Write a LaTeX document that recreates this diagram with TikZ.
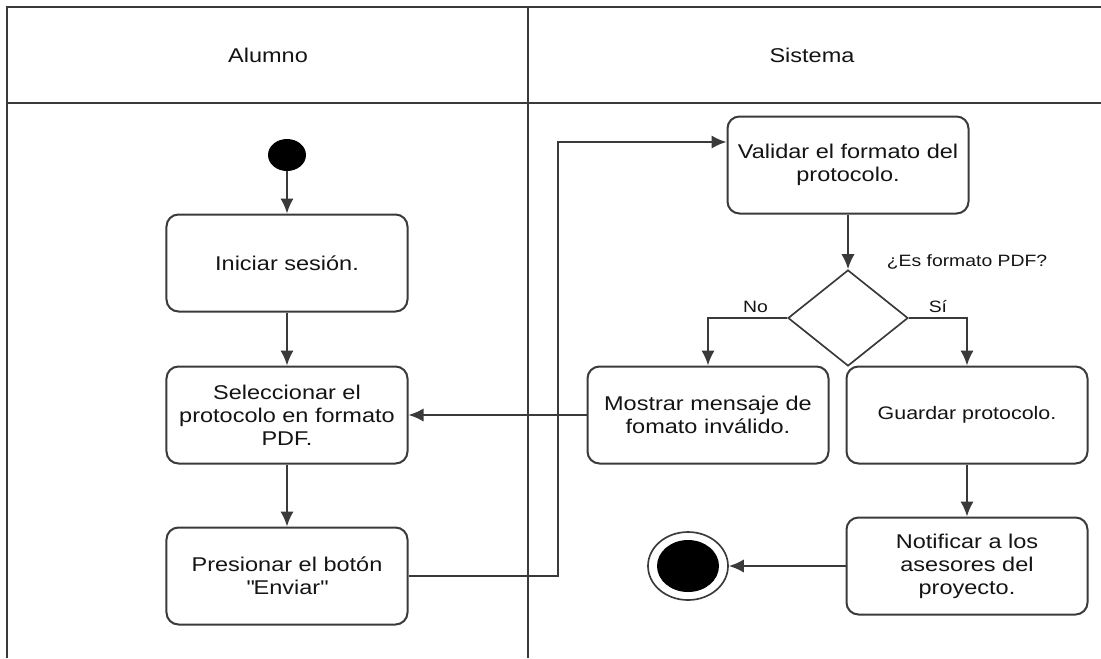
\documentclass[tikz,border=0pt]{standalone}
\usepackage{fontspec}
\setmainfont{Liberation Sans}[FakeStretch=1.18]
\usetikzlibrary{shapes.geometric,arrows.meta}
\definecolor{trazo}{HTML}{3A3A3A}
\definecolor{texto}{HTML}{141414}
\tikzset{
  actividad/.style={draw=trazo, line width=0.06cm, rounded corners=0.36cm,
    minimum width=7.23cm, minimum height=2.91cm, inner sep=0pt,
    align=center, text=texto, font=\fontsize{17}{19.5}\selectfont},
  carril/.style={draw=trazo, line width=0.07cm},
  etiqueta/.style={text=texto, font=\fontsize{14}{16}\selectfont},
  flujo/.style={->, draw=trazo, line width=0.06cm}
}
\begin{document}
\begin{tikzpicture}[x=0.03cm, y=-0.03cm, >={Latex[length=0.45cm,width=0.4cm]}]
\useasboundingbox (0,0) rectangle (1101,658);
% carriles
\draw[carril] (7,658) -- (7,7) -- (1101,7);
\draw[carril] (7,103) -- (1101,103);
\draw[carril] (528,7) -- (528,658);
\node[text=texto, font=\fontsize{17}{19}\selectfont] (alumno) at (268,55) {Alumno};
\node[text=texto, font=\fontsize{17}{19}\selectfont] (sistema) at (812,55) {Sistema};
% Alumno
\node[ellipse, fill=black, minimum width=1.14cm, minimum height=0.96cm, inner sep=0pt] (inicio) at (287,155) {};
\node[actividad] (iniciar) at (287,263) {Iniciar sesión.};
\node[actividad] (selecc) at (287,415) {Seleccionar el\\protocolo en formato\\PDF.};
\node[actividad] (presionar) at (287,576) {Presionar el botón\\\textquotedbl Enviar\textquotedbl};
% Sistema
\node[actividad] (validar) at (848,165) {Validar el formato del\\protocolo.};
\node[diamond, draw=trazo, line width=0.05cm, minimum width=3.6cm, minimum height=2.88cm, inner sep=0pt] (decision) at (848,318) {};
\node[etiqueta] (pregunta) at (967,262) {¿Es formato PDF?};
\node[actividad] (mostrar) at (708,415) {Mostrar mensaje de\\fomato inválido.};
\node[actividad, font=\fontsize{15.5}{18}\selectfont] (guardar) at (967,415) {Guardar protocolo.};
\node[actividad] (notificar) at (967,566) {Notificar a los\\asesores del\\proyecto.};
\node[ellipse, draw=trazo, line width=0.05cm, minimum width=2.4cm, minimum height=2.04cm] (fin) at (688,566) {};
\node[ellipse, fill=black, minimum width=1.86cm, minimum height=1.56cm, inner sep=0pt] (finint) at (fin) {};
% flujos
\draw[flujo] (inicio) -- (iniciar);
\draw[flujo] (iniciar) -- (selecc);
\draw[flujo] (selecc) -- (presionar);
\draw[flujo] (presionar.east) -- ++(149,0) |- ([yshift=0.69cm]validar.west);
\draw[flujo] (validar) -- (decision);
\draw[flujo] (decision.west) -| node[etiqueta, pos=0.2, above] {No} (mostrar.north);
\draw[flujo] (decision.east) -| node[etiqueta, pos=0.25, above] {Sí} (guardar.north);
\draw[flujo] (mostrar.west) -- (selecc.east);
\draw[flujo] (guardar) -- (notificar);
\draw[flujo] (notificar.west) -- (fin.east);
\end{tikzpicture}
\end{document}
